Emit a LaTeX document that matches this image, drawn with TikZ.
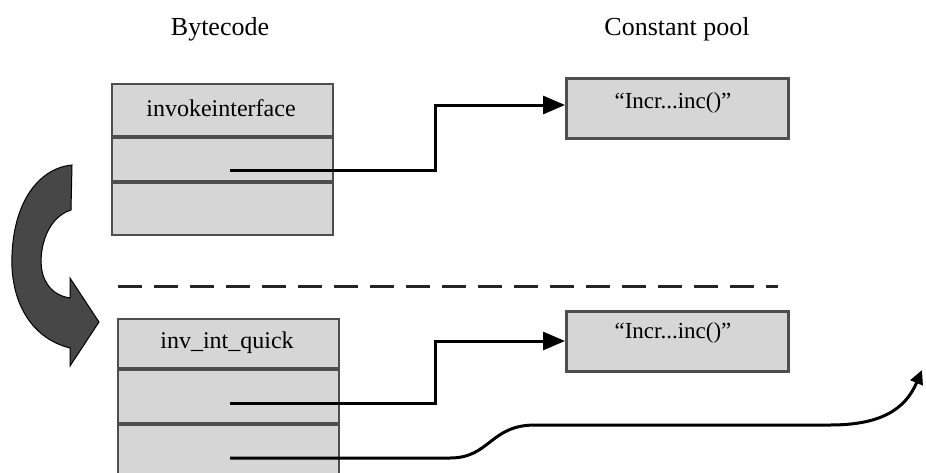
\documentclass[tikz,border=0pt]{standalone}
\usepackage{fontspec}
\setmainfont{Liberation Serif}
\usetikzlibrary{arrows.meta}
\definecolor{boxfill}{HTML}{D6D6D6}
\definecolor{boxline}{HTML}{4E4E4E}
\definecolor{bigarrow}{HTML}{474747}
\tikzset{
  cell/.style={draw=boxline, line width=2pt, fill=boxfill, minimum width=221pt, inner sep=0pt, anchor=north west, font=\fontsize{24}{24}\selectfont},
  cpbox/.style={draw=boxline, line width=2.5pt, fill=boxfill, minimum width=222pt, minimum height=60pt, inner sep=0pt, anchor=north west, font=\fontsize{23}{23}\selectfont},
  head/.style={font=\fontsize{26}{26}\selectfont, inner sep=0pt},
  divider/.style={draw=boxline, line width=3.5pt},
  link/.style={line width=3pt, -{Triangle[length=22pt,width=18pt]}},
}
\begin{document}
\begin{tikzpicture}[x=1pt,y=-1pt]
\clip (0,0) rectangle (926,472);
\fill[white] (0,0) rectangle (926,472);
% headers
\node[head] (hbc) at (220,29) {Bytecode};
\node[head] (hcp) at (677,29) {Constant pool};
% top bytecode box
\node[cell, minimum height=54pt] (t1) at (111,83) {};
\node[font=\fontsize{24}{24}\selectfont, inner sep=0pt] (t1t) at (221,108) {invokeinterface};
\node[cell, minimum height=45pt] (t2) at (111,137) {};
\node[cell, minimum height=52pt] (t3) at (111,182) {};
\draw[divider] (t2.north west) -- (t2.north east);
\draw[divider] (t3.north west) -- (t3.north east);
% top constant pool
\node[cpbox] (c1) at (565,77) {};
\node[font=\fontsize{23}{23}\selectfont, inner sep=0pt] (c1t) at (673,103) {``Incr...inc()''};
% dashed separator
\coordinate (d1) at (118,286);
\coordinate (d2) at (778,286);
\draw[line width=3pt, draw=black!85, dash pattern=on 24pt off 12pt] (d1) -- (d2);
% bottom bytecode box
\node[cell, minimum height=51pt] (b1) at (117,318) {};
\node[font=\fontsize{24}{24}\selectfont, inner sep=0pt] (b1t) at (227,343) {inv\_int\_quick};
\node[cell, minimum height=55pt] (b2) at (117,369) {};
\node[cell, minimum height=60pt] (b3) at (117,424) {};
\draw[divider] (b2.north west) -- (b2.north east);
\draw[divider] (b3.north west) -- (b3.north east);
% bottom constant pool
\node[cpbox] (c2) at (565,310) {};
\node[font=\fontsize{23}{23}\selectfont, inner sep=0pt] (c2t) at (673,333) {``Incr...inc()''};
% connectors
\coordinate (s1) at (230,170);
\coordinate (s2) at (230,403);
\coordinate (s3) at (230,458);
\coordinate (e3) at (922,370);
\draw[link] (s1) -- (435,170) -- (435,105) -- (c1.west |- 0,105);
\draw[link] (s2) -- (435,403) -- (435,341) -- (c2.west |- 0,341);
\draw[line width=3pt, -{Triangle[length=14pt,width=13pt]}] (s3) -- (450,458) .. controls (490,458) and (490,425) .. (535,425) -- (830,425) .. controls (880,425) and (905,410) .. (e3);
% big curved arrow
\draw[fill=bigarrow, draw=black, line width=1pt]
  (72,165) -- (71,210)
  .. controls (45,218) and (37,255) .. (43,275)
  .. controls (48,290) and (58,296) .. (70,298)
  -- (70,278) -- (99,322) -- (70,366) -- (70,348)
  .. controls (30,338) and (10,300) .. (12,255)
  .. controls (14,200) and (40,168) .. (72,165) -- cycle;
\end{tikzpicture}
\end{document}
